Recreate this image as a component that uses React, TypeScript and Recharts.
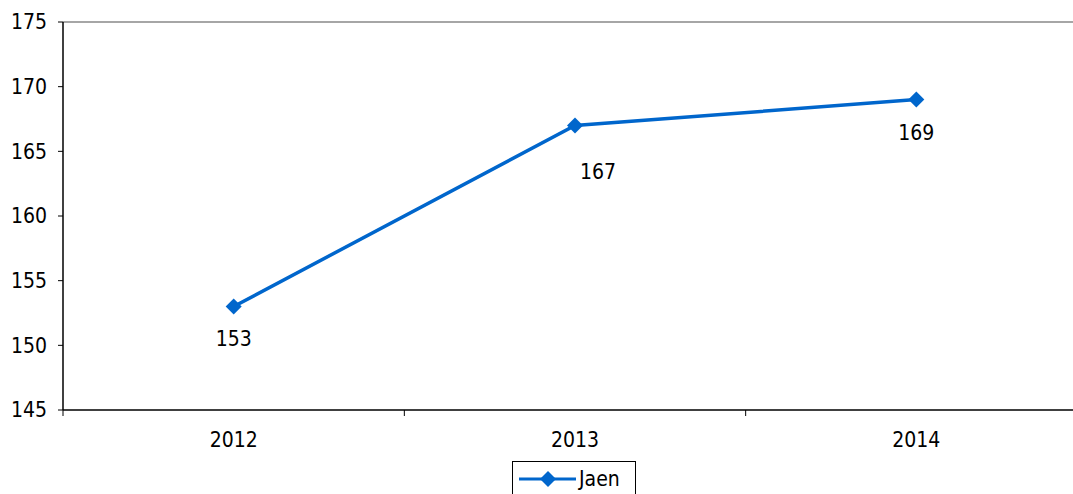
import React from "react";
import { LineChart, Line, XAxis, YAxis, ReferenceLine, Legend } from "recharts";

const categories = ["2012", "2013", "2014"];
const jaenValues = [153, 167, 169];
const yTicks = [145, 150, 155, 160, 165, 170, 175];
const seriesName = "Jaen";

const data = categories.map((year, i) => ({ pos: i + 0.5, year, value: jaenValues[i] }));
const xTicks = [0, 0.5, 1, 1.5, 2, 2.5, 3];

const FONT = 'Tahoma, "DejaVu Sans Condensed", "DejaVu Sans", sans-serif';
const FS = 21;
const COLOR = "#0066CC";

const XTick = (props: any) => {
  const { x, y, payload } = props;
  const v = payload.value;
  if (Number.isInteger(v)) {
    return <line x1={x} y1={y} x2={x} y2={y + 6} stroke="#000" strokeWidth={1} />;
  }
  const idx = Math.floor(v);
  return (
    <text x={x} y={y + 30} textAnchor="middle" dominantBaseline="central" fontFamily={FONT} fontSize={FS} fill="#000">
      {categories[idx]}
    </text>
  );
};

const Diamond = (props: any) => {
  const { cx, cy } = props;
  if (cx == null || cy == null) return null;
  const r = 8;
  return <polygon points={`${cx},${cy - r} ${cx + r},${cy} ${cx},${cy + r} ${cx - r},${cy}`} fill={COLOR} />;
};

const labelShift = [
  { dx: 0, dy: 32 },
  { dx: 23, dy: 47 },
  { dx: 0, dy: 33 },
];

const ValueLabel = (props: any) => {
  const { x, y, value, index } = props;
  const s = labelShift[index] || { dx: 0, dy: 32 };
  return (
    <text x={x + s.dx} y={y + s.dy} textAnchor="middle" dominantBaseline="central" fontFamily={FONT} fontSize={FS} fill="#000">
      {value}
    </text>
  );
};

const LegendBox = () => (
  <div
    style={{
      border: "1px solid #000",
      width: 124,
      height: 40,
      boxSizing: "border-box",
      position: "relative",
      fontFamily: FONT,
      fontSize: FS,
    }}
  >
    <svg width={64} height={20} style={{ position: "absolute", left: 5, top: 7 }}>
      <line x1={1} y1={10} x2={58} y2={10} stroke={COLOR} strokeWidth={3} />
      <polygon points="30,2 38,10 30,18 22,10" fill={COLOR} />
    </svg>
    <span style={{ position: "absolute", left: 66, top: 4, lineHeight: "26px" }}>{seriesName}</span>
  </div>
);

export default function App() {
  return (
    <div style={{ position: "absolute", left: 0, top: 0, width: 1073, height: 494, overflow: "hidden", background: "#fff" }}>
      <LineChart width={1087} height={494} data={data} margin={{ top: 22, right: 0, bottom: 0, left: 0 }}>
        <XAxis
          dataKey="pos"
          type="number"
          domain={[0, 3]}
          ticks={xTicks}
          interval={0}
          axisLine={{ stroke: "#000", strokeWidth: 1.5 }}
          tickLine={false}
          tickSize={0}
          tickMargin={0}
          tick={<XTick />}
          height={46}
        />
        <YAxis
          domain={[145, 175]}
          ticks={yTicks}
          interval={0}
          width={63}
          axisLine={{ stroke: "#000", strokeWidth: 1.5 }}
          tickLine={{ stroke: "#000" }}
          tickSize={5}
          tickMargin={11}
          tick={{ fill: "#000", fontSize: FS, fontFamily: FONT }}
        />
        <ReferenceLine y={175} stroke="#888" strokeWidth={1.5} />
        <Legend
          verticalAlign="bottom"
          content={<LegendBox />}
          wrapperStyle={{ left: 512, bottom: -5, width: 124, height: 38 }}
        />
        <Line
          type="linear"
          dataKey="value"
          name={seriesName}
          stroke={COLOR}
          strokeWidth={3.5}
          dot={<Diamond />}
          activeDot={false}
          isAnimationActive={false}
          label={<ValueLabel />}
        />
      </LineChart>
    </div>
  );
}
